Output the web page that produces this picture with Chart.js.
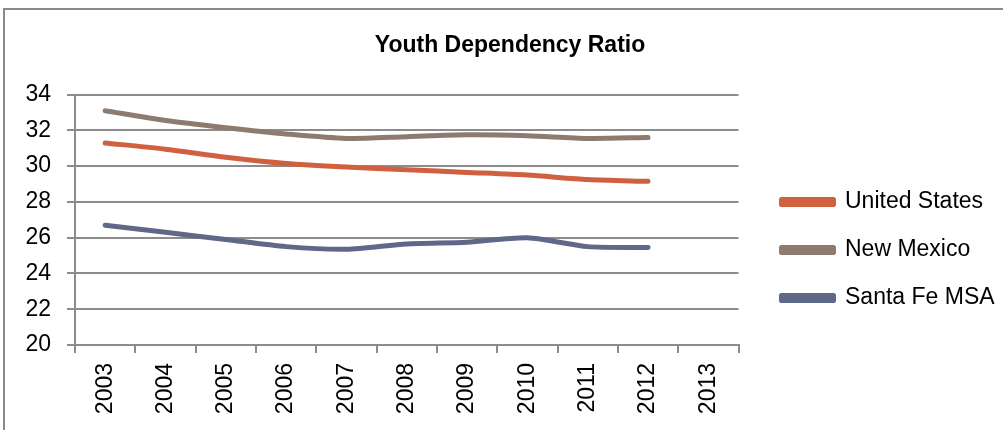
<!DOCTYPE html>
<html>
<head>
<meta charset="utf-8">
<script src="https://cdn.jsdelivr.net/npm/chart.js@4.4.1/dist/chart.umd.min.js"></script>
<style>
  html, body { margin: 0; padding: 0; background: #fff; }
  .frame { position: absolute; left: 3px; top: 8px; width: 1100px; height: 500px;
           border-top: 2px solid #8a8a8a; border-left: 2px solid #8a8a8a; }
  .wrap { position: absolute; left: 0; top: 0; width: 1003px; height: 430px; }
</style>
</head>
<body>
<div class="frame"></div>
<div class="wrap"><canvas id="myChart"></canvas></div>
<script>
const years = ['2003', '2004', '2005', '2006', '2007', '2008', '2009', '2010', '2011', '2012', '2013'];
const unitedStates = [31.3, 30.95, 30.5, 30.15, 29.95, 29.8, 29.65, 29.5, 29.25, 29.15, null];
const newMexico = [33.1, 32.55, 32.15, 31.8, 31.55, 31.65, 31.75, 31.7, 31.55, 31.6, null];
const santaFe = [26.7, 26.3, 25.9, 25.5, 25.35, 25.65, 25.75, 26.0, 25.5, 25.45, null];
const yTicks = [20, 22, 24, 26, 28, 30, 32, 34];

const FONT = "'Liberation Sans', Arial, sans-serif";
const GRID = '#8c8c8c';
const LEGEND_GAP = 18;

const line = (label, data, color) => ({
    label: label,
    data: data,
    borderColor: color,
    backgroundColor: color,
    borderWidth: 5,
    pointRadius: 0,
    tension: 0.25,
    borderCapStyle: 'round',
    borderJoinStyle: 'round'
});

// push the legend a bit away from the plot area
const legendGap = {
    id: 'legendGap',
    beforeLayout(chart) {
        const lg = chart.legend;
        if (lg && !lg._gapPatched) {
            const fit = lg.fit;
            lg.fit = function () {
                fit.call(this);
                this.width += LEGEND_GAP;
            };
            lg._gapPatched = true;
        }
    },
    afterLayout(chart) {
        if (chart.legend) chart.legend.left += LEGEND_GAP;
    }
};

const ctx = document.getElementById('myChart').getContext('2d');
new Chart(ctx, {
    type: 'line',
    data: {
        labels: years,
        datasets: [
            line('United States', unitedStates, '#d0603f'),
            line('New Mexico', newMexico, '#8d7b70'),
            line('Santa Fe MSA', santaFe, '#5f6889')
        ]
    },
    plugins: [legendGap],
    options: {
        responsive: true,
        maintainAspectRatio: false,
        animation: false,
        layout: { padding: { left: 17, right: 0, top: 32, bottom: 8 } },
        plugins: {
            title: {
                display: true,
                text: 'Youth Dependency Ratio',
                color: '#000',
                font: { family: FONT, size: 23, weight: 'bold' },
                padding: { top: 0, bottom: 35 }
            },
            legend: {
                position: 'right',
                title: { display: true, text: '', font: { size: 1 }, padding: { top: 45, bottom: 0 } },
                labels: {
                    color: '#000',
                    font: { family: FONT, size: 23 },
                    boxWidth: 52,
                    boxHeight: 5,
                    padding: 25
                }
            },
            tooltip: { enabled: false }
        },
        scales: {
            x: {
                offset: true,
                grid: { display: true, drawOnChartArea: false, offset: true, color: GRID, lineWidth: 2, tickLength: 8 },
                border: { color: GRID, width: 2 },
                ticks: {
                    color: '#000',
                    font: { family: FONT, size: 23 },
                    maxRotation: 90,
                    minRotation: 90,
                    autoSkip: false,
                    padding: 10
                },
                afterFit: (s) => { s.height = 77; }
            },
            y: {
                min: 20,
                max: 34,
                afterBuildTicks: (s) => { s.ticks = yTicks.map(v => ({ value: v })); },
                grid: { color: GRID, lineWidth: 2, tickLength: 8 },
                border: { color: GRID, width: 2 },
                ticks: {
                    color: '#000',
                    font: { family: FONT, size: 23 },
                    padding: 16
                },
                afterFit: (s) => { s.width = 58; }
            }
        }
    }
});
</script>
</body>
</html>
